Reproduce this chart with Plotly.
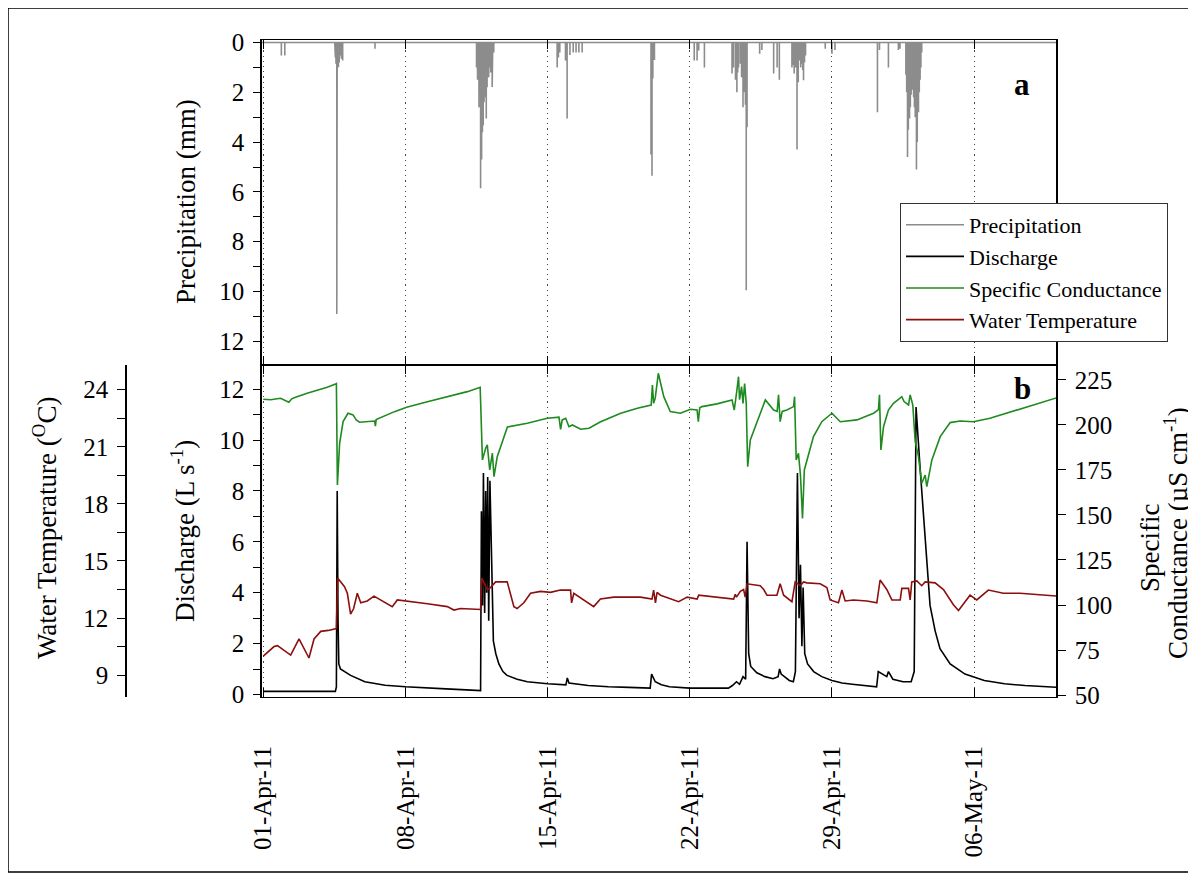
import pandas as pd
import plotly.graph_objects as go

# ---------------- data (day offsets from 01-Apr-2011 00:00) ----------------
START = pd.Timestamp("2011-04-01")

precip_day = [0.89, 1.06,
              3.52, 3.55, 3.58, 3.62, 3.64, 3.66, 3.70, 3.74, 3.78, 3.82, 3.85, 3.88, 3.91,
              5.50,
              10.50, 10.55, 10.62, 10.66, 10.70, 10.75, 10.79, 10.83, 10.87, 10.90, 10.94,
              10.98, 11.02, 11.06, 11.10, 11.16, 11.20, 11.27, 11.30, 11.35,
              14.47, 14.53, 14.60, 14.88, 14.96, 15.10, 15.26, 15.40, 15.54, 15.70,
              19.09, 19.14, 19.18, 19.26,
              21.22, 21.36, 21.44, 21.72,
              23.08, 23.15, 23.25, 23.32, 23.36, 23.40, 23.49, 23.55, 23.62, 23.66, 23.70,
              23.74, 23.78, 23.82,
              24.44, 24.55, 25.13, 25.30, 25.41,
              26.03, 26.08, 26.14, 26.20, 26.28, 26.34, 26.40, 26.46, 26.52, 26.56, 26.60,
              26.65, 26.70,
              27.67, 28.00, 28.15,
              30.24, 30.34, 30.78, 31.27, 31.35,
              31.64, 31.68, 31.72, 31.76, 31.82, 31.86, 31.90, 31.94, 31.98, 32.02, 32.06,
              32.10, 32.16, 32.20, 32.26, 32.30, 32.34, 32.38, 32.42]
precip_mm = [0.52, 0.52,
             0.39, 0.6, 0.85, 10.9, 7.3, 1.0, 0.99, 0.8, 0.52, 0.6, 0.65, 0.7, 0.72,
             0.25,
             1.0, 1.5, 2.6, 2.0, 5.85, 4.7, 3.6, 3.32, 2.4, 1.6, 2.2,
             3.05, 1.8, 1.3, 1.4, 1.0, 1.2, 1.79, 0.8, 0.4,
             1.0, 0.6, 0.4, 0.72, 3.05, 0.5, 0.4, 0.4, 0.4, 0.4,
             4.5, 5.35, 1.45, 0.7,
             0.72, 0.72, 0.32, 1.0,
             1.25, 1.0, 1.5, 2.0, 1.2, 1.0, 0.85, 1.4, 2.6, 2.0, 1.6,
             2.5, 9.95, 3.4,
             0.45, 0.3, 1.25, 1.0, 1.5,
             1.0, 0.9, 1.25, 1.0, 4.3, 1.6, 0.72, 1.0, 0.85, 1.1, 1.52,
             0.8, 0.52,
             0.25, 0.45, 0.3,
             2.8, 0.3, 1.0, 0.3, 0.25,
             1.3, 2.0, 4.6, 3.5, 3.05, 2.6, 2.1, 1.9, 1.8, 2.2, 2.6,
             3.0, 5.1, 4.0, 2.8, 2.0, 1.5, 1.0, 0.4]

q_day = [0.0, 3.55, 3.60, 3.64, 3.68, 3.72, 3.80, 4.0, 4.3, 5.0, 6.0, 7.0, 8.0, 9.0, 10.0,
         10.70, 10.74, 10.80, 10.84, 10.90, 10.95, 11.00, 11.05, 11.10, 11.16, 11.25, 11.33,
         11.45, 11.6, 11.8, 12.0, 12.5, 13.0, 14.0, 14.9, 14.97, 15.05, 16.0, 17.0, 18.0,
         19.05, 19.12, 19.3, 19.6, 20.0, 21.0, 22.0, 22.9, 23.1, 23.3, 23.45, 23.62, 23.75,
         23.82, 23.90, 24.0, 24.3, 24.7, 25.1, 25.35, 25.42, 25.5, 25.9, 26.1, 26.2,
         26.30, 26.38, 26.45, 26.52, 26.58, 26.66, 26.8, 27.1, 27.5, 28.0, 28.5, 29.0, 29.5,
         30.2, 30.28, 30.5, 30.7, 30.78, 31.0, 31.5, 31.9, 32.05, 32.14, 32.34, 32.59,
         32.83, 33.08, 33.32, 33.82, 34.55, 35.5, 36.5, 37.5, 38.5, 39.1]
q_val = [0.12, 0.12, 0.3, 8.0, 3.0, 1.2, 1.0, 0.9, 0.75, 0.5, 0.36, 0.3, 0.25, 0.22, 0.18,
         0.15, 7.2, 3.5, 8.7, 3.2, 8.0, 4.0, 8.55, 2.9, 8.4, 4.5, 2.1,
         1.6, 1.2, 0.9, 0.75, 0.6, 0.5, 0.42, 0.38, 0.65, 0.45, 0.35, 0.3, 0.28,
         0.25, 0.8, 0.5, 0.38, 0.3, 0.25, 0.24, 0.25, 0.35, 0.5, 0.4, 0.7, 0.6,
         6.0, 1.6, 1.1, 0.85, 0.7, 0.62, 0.7, 1.0, 0.8, 0.55, 0.5, 0.9,
         8.7, 3.0, 5.1, 1.9, 4.2, 1.6, 1.2, 0.9, 0.7, 0.55, 0.45, 0.4, 0.35,
         0.3, 0.9, 0.8, 0.7, 0.9, 0.6, 0.5, 0.5, 0.9, 11.3, 8.9, 6.0,
         3.5, 2.5, 1.8, 1.2, 0.8, 0.55, 0.42, 0.35, 0.3, 0.28]

sc_day = [0.0, 0.36, 0.85, 1.10, 1.26, 1.40, 1.59, 2.16, 2.74, 3.15, 3.56, 3.60, 3.65, 3.76,
          3.93, 4.17, 4.42, 4.58, 4.74, 5.48, 5.52, 5.56, 6.46, 7.06, 8.08, 9.06, 10.05,
          10.68, 10.79, 10.95, 11.03, 11.15, 11.28, 11.36, 11.52, 12.02, 13.0, 13.98, 14.56,
          14.64, 14.72, 14.89, 15.05, 15.22, 15.63, 16.04, 16.61, 17.6, 18.42, 19.10, 19.16,
          19.22, 19.30, 19.45, 19.72, 20.04, 20.54, 21.03, 21.36, 21.42, 21.49, 21.60, 22.34,
          23.08, 23.19, 23.32, 23.40, 23.45, 23.55, 23.62, 23.70, 23.78, 23.85, 23.98, 24.23,
          24.72, 25.13, 25.30, 25.37, 25.45, 25.55, 25.78, 26.11, 26.16, 26.24, 26.35, 26.45,
          26.55, 26.64, 26.77, 27.09, 27.5, 28.0, 28.41, 29.23, 30.05, 30.29, 30.34, 30.41,
          30.54, 30.78, 31.03, 31.44, 31.55, 31.77, 31.85, 31.98, 32.10, 32.26, 32.42, 32.59,
          32.67, 32.92, 33.33, 33.82, 34.31, 34.96, 35.78, 36.6, 37.42, 38.24, 39.1]
sc_val = [214.3, 214.0, 214.8, 213.5, 212.6, 214.5, 215.4, 217.6, 219.4, 220.9, 222.8, 223.0,
          166.7, 189.8, 201.9, 206.5, 205.6, 202.8, 201.5, 202.2, 199.4, 203.0, 207.4, 209.8,
          212.9, 215.7, 218.5, 220.9, 180.6, 187.0, 188.9, 175.0, 184.3, 171.3, 182.4, 198.9,
          200.9, 203.7, 204.3, 197.6, 202.8, 203.7, 199.0, 200.0, 197.6, 198.2, 201.8, 206.5,
          209.3, 211.0, 222.2, 212.0, 215.0, 228.7, 215.7, 207.4, 206.5, 208.7, 208.3, 201.8,
          209.5, 210.2, 211.7, 213.9, 208.3, 219.4, 226.8, 214.0, 221.3, 212.0, 223.0, 212.0,
          176.8, 191.7, 199.0, 213.9, 208.3, 207.5, 216.7, 201.8, 207.5, 208.3, 210.2, 215.7,
          180.6, 184.3, 172.0, 148.1, 175.0, 180.6, 193.5, 201.8, 206.5, 201.8, 202.8, 206.5,
          208.5, 216.7, 186.1, 199.0, 208.3, 212.0, 215.7, 213.0, 211.1, 216.7, 211.1, 190.7,
          182.4, 167.6, 172.2, 165.7, 180.6, 193.5, 201.3, 202.2, 201.8, 203.7, 206.5, 209.3,
          212.4, 215.2]

t_day = [0.0, 0.3, 0.53, 0.7, 1.02, 1.35, 1.76, 2.0, 2.25, 2.5, 2.83, 3.2, 3.6, 3.66, 3.81,
         4.0, 4.14, 4.3, 4.45, 4.63, 4.8, 5.12, 5.45, 5.78, 6.35, 6.6, 7.04, 8.08, 9.06, 9.39,
         9.71, 10.7, 10.76, 11.03, 11.19, 11.44, 12.01, 12.15, 12.34, 12.5, 12.83, 13.16,
         13.65, 14.14, 14.63, 15.13, 15.18, 15.29, 16.27, 16.6, 17.26, 18.57, 19.14, 19.22,
         19.31, 19.39, 19.56, 20.45, 20.87, 21.36, 21.44, 23.16, 23.24, 23.3, 23.49, 23.65,
         23.73, 23.82, 24.47, 24.64, 24.8, 25.29, 25.45, 25.62, 26.03, 26.19, 26.44, 26.6,
         26.77, 27.42, 27.75, 27.91, 28.32, 28.49, 28.65, 29.06, 29.72, 30.21, 30.37, 30.7,
         30.95, 31.36, 31.44, 31.77, 31.85, 31.93, 32.18, 32.42, 32.59, 33.08, 33.49, 33.98,
         34.23, 34.8, 35.13, 35.7, 36.44, 37.26, 38.9, 39.1]
t_val = [10.0, 10.3, 10.5, 10.55, 10.3, 10.05, 10.9, 10.4, 9.9, 10.9, 11.3, 11.35, 11.45,
         14.1, 13.9, 13.65, 13.3, 12.2, 12.5, 13.3, 12.8, 12.9, 13.15, 12.95, 12.6, 12.95,
         12.9, 12.75, 12.6, 12.42, 12.5, 12.45, 14.1, 13.5, 13.6, 13.9, 13.9, 13.3, 12.6,
         12.5, 12.8, 13.3, 13.4, 13.35, 13.47, 13.47, 12.8, 13.3, 12.6, 13.0, 13.1, 13.1,
         13.0, 13.47, 12.8, 13.35, 13.2, 12.86, 13.1, 13.0, 13.2, 13.0, 13.25, 13.1, 13.4,
         13.5, 13.1, 13.8, 13.7, 13.5, 13.2, 13.2, 13.8, 13.2, 12.86, 13.9, 13.7, 13.9,
         13.85, 13.8, 13.6, 12.95, 12.8, 13.47, 12.9, 12.95, 12.9, 12.8, 14.0, 13.5, 12.95,
         12.95, 13.56, 13.56, 12.95, 13.9, 13.95, 13.7, 13.9, 13.85, 13.5, 12.7, 12.4, 13.2,
         12.95, 13.47, 13.3, 13.3, 13.15, 13.15]

tick_dates = ["2011-04-01", "2011-04-08", "2011-04-15", "2011-04-22", "2011-04-29", "2011-05-06"]
tick_labels = ["01-Apr-11", "08-Apr-11", "15-Apr-11", "22-Apr-11", "29-Apr-11", "06-May-11"]

X_START = "2011-03-31 22:30"
X_END = "2011-05-10 00:45"


def to_time(days):
    return [START + pd.Timedelta(days=d) for d in days]


# precipitation as a baseline line with vertical spikes
px, py = [START - pd.Timedelta(hours=2)], [0.0]
for d, v in sorted(zip(precip_day, precip_mm)):
    t = START + pd.Timedelta(days=d)
    px += [t, t, t]
    py += [0.0, v, 0.0]
px.append(START + pd.Timedelta(days=39.2))
py.append(0.0)

FONT = "Liberation Serif"
GREY = "#8c8c8c"
GREEN = "#1f8a1f"
RED = "#8b0f0f"

fig = go.Figure()
fig.add_trace(go.Scatter(x=px, y=py, mode="lines", name="Precipitation",
                         line=dict(color=GREY, width=1.6), xaxis="x", yaxis="y"))
fig.add_trace(go.Scatter(x=to_time(q_day), y=q_val, mode="lines", name="Discharge",
                         line=dict(color="black", width=1.6), xaxis="x2", yaxis="y2"))
fig.add_trace(go.Scatter(x=to_time(sc_day), y=sc_val, mode="lines", name="Specific Conductance",
                         line=dict(color=GREEN, width=1.6), xaxis="x2", yaxis="y3"))
fig.add_trace(go.Scatter(x=to_time(t_day), y=t_val, mode="lines", name="Water Temperature",
                         line=dict(color=RED, width=1.6), xaxis="x2", yaxis="y4"))

# page body adds an 8 px offset; screen-pixel layout targets below
OFF = 8
W, H = 1196, 879
SL, SR, ST, SB = 126, 1056, 40, 697          # plot area in screen pixels
PW, PH = SR - SL, SB - ST
L, T = SL - OFF, ST - OFF
R, B = W - L - PW, H - T - PH
x0 = (262 - SL) / PW
ysplit = (SB - 365) / PH


def px2x(p):
    return (p - SL) / PW


def px2y(p):
    return (SB - p) / PH


tickfont = dict(family=FONT, size=25, color="black")
ycommon = dict(showline=True, linecolor="black", linewidth=1.5, zeroline=False,
               tickcolor="black", tickwidth=1.3, tickfont=tickfont, showgrid=False)

xcommon = dict(type="date", range=[X_START, X_END], domain=[x0, 1],
               tickvals=tick_dates, ticktext=tick_labels, ticks="inside", ticklen=9,
               mirror="ticks", showgrid=True, gridcolor="#444444", gridwidth=1.2,
               griddash="1.2px,4px", showline=True, linecolor="black", linewidth=1,
               zeroline=False, tickcolor="black", tickwidth=1.3, tickfont=tickfont)

fig.update_layout(
    width=W, height=H,
    margin=dict(l=L, r=R, t=T, b=B),
    paper_bgcolor="white", plot_bgcolor="rgba(0,0,0,0)",
    font=dict(family=FONT, color="black"),
    xaxis=dict(anchor="y", showticklabels=False, **xcommon),
    xaxis2=dict(anchor="y2", tickangle=-90, ticklabelstandoff=38, **xcommon),
    yaxis=dict(domain=[ysplit, 1], anchor="x", range=[12.95, -0.1], dtick=2, tick0=0,
               ticks="outside", ticklen=7, mirror=True, ticklabelstandoff=4,
               minor=dict(dtick=1, tick0=0, ticks="outside", ticklen=7, tickcolor="black",
                          showgrid=False),
               **ycommon),
    yaxis2=dict(domain=[0, ysplit], anchor="x2", range=[-0.1, 12.95], dtick=2, tick0=0,
                ticks="outside", ticklen=7, ticklabelstandoff=4,
                minor=dict(dtick=1, tick0=0, ticks="outside", ticklen=7, tickcolor="black",
                           showgrid=False),
                **ycommon),
    yaxis3=dict(overlaying="y2", anchor="x2", side="right", range=[48.9, 233.3], dtick=25,
                tick0=0, ticks="outside", ticklen=8, ticklabelstandoff=4, **ycommon),
    yaxis4=dict(overlaying="y2", anchor="free", position=0, side="left", range=[7.85, 25.3],
                dtick=3, tick0=0, ticks="outside", ticklen=8, ticklabelstandoff=4,
                minor=dict(dtick=1.5, tick0=0, ticks="outside", ticklen=8, tickcolor="black",
                           showgrid=False),
                **ycommon),
    legend=dict(x=px2x(900), y=px2y(203), xanchor="left", yanchor="top",
                bgcolor="white", bordercolor="#333333", borderwidth=1,
                font=dict(family=FONT, size=22, color="black"), itemwidth=58,
                traceorder="normal"),
    showlegend=True,
)

title_font = dict(family=FONT, size=27, color="black")
annots = [
    dict(text="Precipitation (mm)", x=px2x(186), y=px2y(202)),
    dict(text="Discharge (L s<sup>-1</sup>)", x=px2x(183), y=px2y(531)),
    dict(text="Water Temperature (<sup>O</sup>C)", x=px2x(45), y=px2y(528)),
    dict(text="Specific", x=px2x(1150), y=px2y(548)),
    dict(text="Conductance (µS cm<sup>-1</sup>)", x=px2x(1176), y=px2y(533)),
]
for a in annots:
    fig.add_annotation(xref="paper", yref="paper", textangle=-90, showarrow=False,
                       xanchor="center", yanchor="middle", font=title_font, **a)

fig.add_annotation(text="<b>a</b>", xref="paper", yref="paper", x=px2x(1032), y=px2y(65),
                   showarrow=False, font=dict(family=FONT, size=31, color="black"))
fig.add_annotation(text="<b>b</b>", xref="paper", yref="paper", x=px2x(1033), y=px2y(388),
                   showarrow=False, font=dict(family=FONT, size=31, color="black"))

# outer figure frame
fig.add_shape(type="rect", xref="paper", yref="paper",
              x0=px2x(8), x1=px2x(1191), y0=px2y(872), y1=px2y(8),
              line=dict(color="black", width=1.5), fillcolor="rgba(0,0,0,0)")

fig.write_html("out.html")
